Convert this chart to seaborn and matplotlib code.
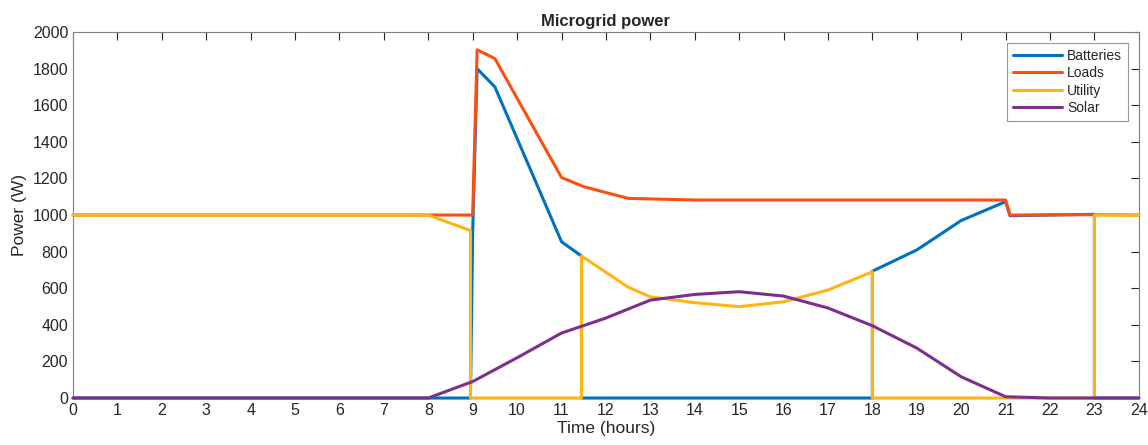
import matplotlib
matplotlib.use('Agg')
import matplotlib.pyplot as plt
import seaborn as sns

# hours / watts
bat_t = [0, 8.95, 9.0, 9.1, 9.5, 11, 11.45, 11.45, 18, 18, 19, 20, 21, 21.1, 23, 23, 24]
bat_p = [0, 0, 910, 1800, 1700, 854, 776, 0, 0, 693, 809, 970, 1073, 996, 1004, 0, 0]

load_t = [0, 8, 9.0, 9.1, 9.5, 11, 11.5, 12.5, 14, 21, 21.1, 23, 24]
load_p = [1000, 1000, 1000, 1903, 1855, 1205, 1155, 1091, 1082, 1082, 1000, 1002, 1000]

util_t = [0, 8, 8.95, 8.95, 11.45, 11.45, 12.5, 13, 14, 15, 16, 17, 18, 18, 23, 23, 24]
util_p = [1000, 1000, 915, 0, 0, 776, 606, 553, 521, 499, 526, 590, 690, 0, 0, 1000, 1000]

sol_t = [0, 8, 9, 10, 11, 12, 13, 14, 15, 16, 17, 18, 19, 20, 21, 22, 24]
sol_p = [0, 0, 90, 220, 355, 437, 535, 566, 581, 557, 492, 395, 273, 116, 7, 0, 0]

sns.set_style('white')
plt.rcParams['font.family'] = ['Liberation Sans', 'DejaVu Sans']

fig = plt.figure(figsize=(11.48, 4.45), dpi=100)
ax = fig.add_axes([0.0636, 0.1056, 0.9284, 0.8224])

series = [
    ('Batteries', bat_t, bat_p, '#0072BD'),
    ('Loads', load_t, load_p, '#FF4D12'),
    ('Utility', util_t, util_p, '#FDB515'),
    ('Solar', sol_t, sol_p, '#7E2F8E'),
]
for name, t, p, c in series:
    sns.lineplot(x=t, y=p, estimator=None, sort=False, color=c, linewidth=2.2,
                 label=name, ax=ax)
for i, ln in enumerate(ax.get_lines()):
    ln.set_clip_on(False)
    ln.set_zorder(3 + i * 0.1)

ax.set_xlim(0, 24)
ax.set_ylim(0, 2000)
ax.set_xticks(range(0, 25))
ax.set_yticks(range(0, 2001, 200))
ax.tick_params(direction='in', length=6, top=True, right=True, labelsize=11.5,
               colors='#262626', width=0.8)
for s in ax.spines.values():
    s.set_color('#7f7f7f')
    s.set_linewidth(0.8)

ax.set_title('Microgrid power', fontsize=12, fontweight='bold', pad=4)
ax.set_xlabel('Time (hours)', fontsize=12.5, labelpad=2)
ax.set_ylabel('Power (W)', fontsize=12.5, labelpad=4)

leg = ax.legend(loc='upper right', fontsize=10, frameon=True, fancybox=False,
                edgecolor='#7f7f7f', handlelength=3.5, borderpad=0.4,
                labelspacing=0.25, handletextpad=0.4, borderaxespad=0.8)
leg.get_frame().set_linewidth(0.8)
leg.set_zorder(10)

fig.savefig('out.png', dpi=100)
